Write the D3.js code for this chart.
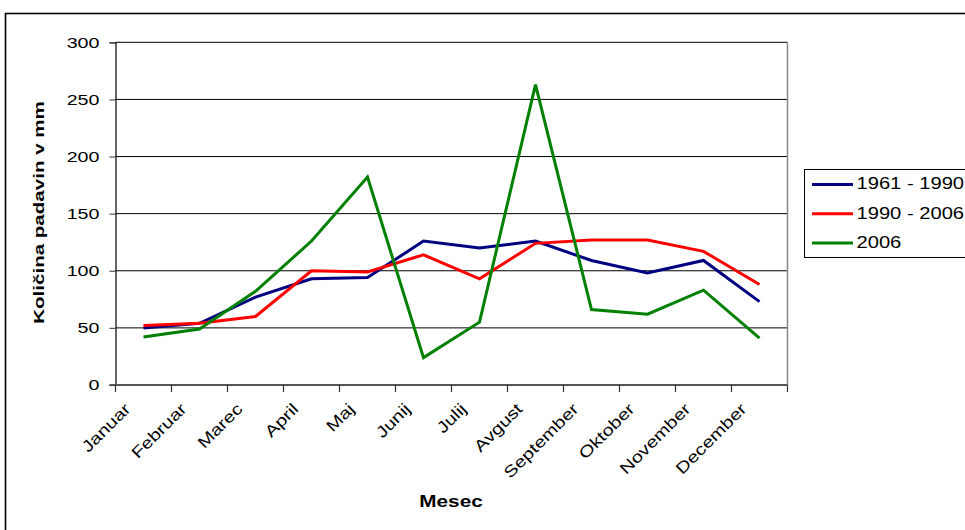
<!DOCTYPE html>
<html>
<head>
<meta charset="utf-8">
<script src="https://cdn.jsdelivr.net/npm/d3@7/dist/d3.min.js"></script>
<style>
  html, body { margin: 0; padding: 0; background: #fff; }
  svg { display: block; font-family: "Liberation Sans", Arial, sans-serif; }
</style>
</head>
<body>
<svg id="chart" width="965" height="530"></svg>
<script>
// Monthly precipitation (mm)
const months = ["Januar", "Februar", "Marec", "April", "Maj", "Junij", "Julij",
                "Avgust", "September", "Oktober", "November", "December"];
const avg1961_1990 = [50, 54, 77, 93, 94, 126, 120, 126, 109, 98, 109, 73];
const avg1990_2006 = [52, 54, 60, 100, 99, 114, 93, 124, 127, 127, 117, 88];
const year2006 = [42, 49, 82, 126, 182, 24, 55, 263, 66, 62, 83, 41];
const yTicks = [0, 50, 100, 150, 200, 250, 300];
const seriesNames = ["1961 - 1990", "1990 - 2006", "2006"];
const seriesColors = ["#000080", "#ff0000", "#008000"];

const series = [avg1961_1990, avg1990_2006, year2006].map((values, i) => ({
  name: seriesNames[i], color: seriesColors[i], values
}));

// text in this chart uses a wide face; emulate by stretching along the baseline
const WIDE = 1.27;

const svg = d3.select("#chart");

// chart area frame
svg.append("rect")
  .attr("x", 5.5).attr("y", 13.5).attr("width", 1000).attr("height", 600)
  .attr("fill", "none").attr("stroke", "#000").attr("stroke-width", 1.6);

const plot = { left: 115.5, right: 787.5, top: 42.3, bottom: 385 };

const x = d3.scaleBand().domain(months).range([plot.left, plot.right]).padding(0);
const y = d3.scaleLinear().domain([0, 300]).range([plot.bottom, plot.top]);

// horizontal gridlines
svg.append("g").selectAll("line")
  .data(yTicks.filter(d => d > 0))
  .join("line")
  .attr("x1", plot.left).attr("x2", plot.right)
  .attr("y1", d => y(d)).attr("y2", d => y(d))
  .attr("stroke", "#000").attr("stroke-width", 1);

// plot area right border
svg.append("line")
  .attr("x1", plot.right).attr("x2", plot.right)
  .attr("y1", plot.top).attr("y2", plot.bottom)
  .attr("stroke", "#888").attr("stroke-width", 1.5);

// y axis (line + ticks from the axis generator, labels drawn separately)
const yAxis = svg.append("g")
  .attr("transform", `translate(${plot.left},0)`)
  .call(d3.axisLeft(y).tickValues(yTicks).tickSize(6).tickFormat(""));
yAxis.select(".domain").attr("stroke", "#000").attr("stroke-width", 1.2);
yAxis.selectAll(".tick line").attr("stroke", "#555").attr("stroke-width", 1.2);
svg.append("g").selectAll("text")
  .data(yTicks)
  .join("text")
  .attr("text-anchor", "end")
  .attr("font-size", 15.5)
  .attr("dy", "0.34em")
  .attr("transform", d => `translate(99.5,${y(d)}) scale(${WIDE},1)`)
  .text(d => d);

// x axis with ticks between categories
const xAxisG = svg.append("g").attr("transform", `translate(0,${plot.bottom})`);
xAxisG.append("line")
  .attr("x1", plot.left - 6).attr("x2", plot.right)
  .attr("y1", 0).attr("y2", 0)
  .attr("stroke", "#555").attr("stroke-width", 2);
const boundaries = months.map(m => x(m)).concat([x(months[months.length - 1]) + x.bandwidth()]);
xAxisG.selectAll("line.tick")
  .data(boundaries)
  .join("line")
  .attr("class", "tick")
  .attr("x1", d => d).attr("x2", d => d)
  .attr("y1", 0).attr("y2", 7)
  .attr("stroke", "#333").attr("stroke-width", 1.2);
xAxisG.selectAll("text")
  .data(months)
  .join("text")
  .attr("text-anchor", "end")
  .attr("font-size", 16)
  .attr("transform", m => `translate(${x(m) + x.bandwidth() / 2 - 12},${25}) rotate(-45) scale(1.25,1)`)
  .text(m => m);

// series lines
const line = d3.line()
  .x((d, i) => x(months[i]) + x.bandwidth() / 2)
  .y(d => y(d));
svg.append("g").selectAll("path")
  .data(series)
  .join("path")
  .attr("d", s => line(s.values))
  .attr("fill", "none")
  .attr("stroke", s => s.color)
  .attr("stroke-width", 3)
  .attr("stroke-linejoin", "miter");

// axis titles
svg.append("text")
  .attr("transform", `translate(43.5,212.5) rotate(-90) scale(1.37,1)`)
  .attr("text-anchor", "middle")
  .attr("font-size", 15).attr("font-weight", "bold")
  .text("Količina padavin v mm");
svg.append("text")
  .attr("transform", `translate(451,507) scale(1.22,1)`)
  .attr("text-anchor", "middle")
  .attr("font-size", 17).attr("font-weight", "bold")
  .text("Mesec");

// legend
const legend = svg.append("g");
legend.append("rect")
  .attr("x", 804.5).attr("y", 169.5).attr("width", 300).attr("height", 88)
  .attr("fill", "#fff").attr("stroke", "#000").attr("stroke-width", 1);
const items = legend.selectAll("g.item")
  .data(series)
  .join("g")
  .attr("class", "item")
  .attr("transform", (d, i) => `translate(0,${184.5 + i * 29.2})`);
items.append("line")
  .attr("x1", 812).attr("x2", 853).attr("y1", 0).attr("y2", 0)
  .attr("stroke", d => d.color).attr("stroke-width", 3);
items.append("text")
  .attr("transform", "translate(856.5,4.8) scale(1.26,1)")
  .attr("font-size", 16)
  .text(d => d.name);
</script>
</body>
</html>
